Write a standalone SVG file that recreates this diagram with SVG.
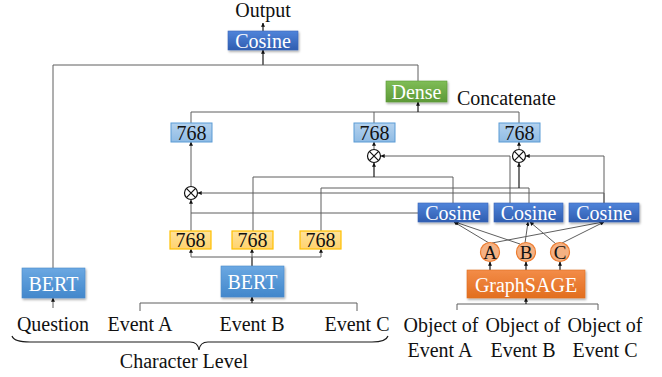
<svg xmlns="http://www.w3.org/2000/svg" width="662" height="377" viewBox="0 0 662 377">
  <defs>
    <linearGradient id="gCos" x1="0" y1="0" x2="0" y2="1">
      <stop offset="0" stop-color="#5084da"/>
      <stop offset="1" stop-color="#2f5db0"/>
    </linearGradient>
    <linearGradient id="gBert" x1="0" y1="0" x2="0" y2="1">
      <stop offset="0" stop-color="#6ba8e2"/>
      <stop offset="1" stop-color="#4287cb"/>
    </linearGradient>
    <linearGradient id="gDense" x1="0" y1="0" x2="0" y2="1">
      <stop offset="0" stop-color="#7fbd57"/>
      <stop offset="1" stop-color="#5d9937"/>
    </linearGradient>
    <linearGradient id="gSage" x1="0" y1="0" x2="0" y2="1">
      <stop offset="0" stop-color="#f38c48"/>
      <stop offset="1" stop-color="#e26e1f"/>
    </linearGradient>
    <linearGradient id="gVec" x1="0" y1="0" x2="0" y2="1">
      <stop offset="0" stop-color="#b4d2ee"/>
      <stop offset="1" stop-color="#8fbbe4"/>
    </linearGradient>
    <linearGradient id="gTok" x1="0" y1="0" x2="0" y2="1">
      <stop offset="0" stop-color="#ffe29a"/>
      <stop offset="1" stop-color="#ffd36e"/>
    </linearGradient>
    <filter id="shadow" x="-10%" y="-20%" width="120%" height="150%">
      <feDropShadow dx="1" dy="1.5" stdDeviation="0.8" flood-color="#000" flood-opacity="0.35"/>
    </filter>
    <marker id="arr" viewBox="0 0 6 6" refX="5.5" refY="3" markerWidth="4" markerHeight="4" orient="auto" markerUnits="userSpaceOnUse">
      <path d="M0,0 L6,3 L0,6 z" fill="#111"/>
    </marker>
  </defs>
  <style>
    text { font-family: "Liberation Serif", "Times New Roman", serif; font-size: 20px; }
    .lbl { fill: #111; }
    .wt { fill: #fff; text-anchor: middle; }
    .bk { fill: #111; text-anchor: middle; }
    .ln { fill: none; stroke: #5f5f5f; stroke-width: 1; }
    .dk { fill: none; stroke: #1a1a1a; stroke-width: 1.2; }
    .ar { marker-end: url(#arr); }
    .cos { fill: url(#gCos); stroke: #3a66b8; stroke-width: 0.6; filter: url(#shadow); }
    .bert { fill: url(#gBert); stroke: #4a8bcb; stroke-width: 0.6; filter: url(#shadow); }
    .vec { fill: url(#gVec); stroke: #5b9bd5; stroke-width: 1; }
    .tok { fill: url(#gTok); stroke: #ffc000; stroke-width: 1.2; }
    .obj { fill: #f4b183; stroke: #ed7d31; stroke-width: 1.2; }
    .mul { fill: #fff; stroke: #111; stroke-width: 1.2; }
  </style>

  <!-- connectors -->
  <g id="connectors">
    <!-- output and top cosine -->
    <line class="dk ar" x1="263" y1="31" x2="263" y2="23"/>
    <line class="dk ar" x1="263" y1="65" x2="263" y2="50"/>
    <polyline class="ln" points="53,268 53,65 418,65 418,81"/>
    <!-- concatenation into dense -->
    <polyline class="ln" points="191,123 191,112 519,112 519,123"/>
    <line class="ln" x1="374" y1="112" x2="374" y2="123"/>
    <line class="dk ar" x1="418" y1="112" x2="418" y2="102"/>
    <!-- products into 768 vectors -->
    <line class="ln ar" x1="191" y1="186" x2="191" y2="142"/>
    <line class="ln ar" x1="374" y1="149" x2="374" y2="142"/>
    <line class="ln ar" x1="519" y1="149" x2="519" y2="142"/>
    <!-- inputs to left product -->
    <line class="ln ar" x1="191" y1="231" x2="191" y2="200"/>
    <line class="ln" x1="191" y1="213" x2="418" y2="213"/>
    <polyline class="ln ar" points="604,203 604,193 198,193"/>
    <!-- inputs to middle product -->
    <polyline class="ln ar" points="510,203 510,156 381,156"/>
    <polyline class="ln" points="253,231 253,177 453,177 453,203"/>
    <line class="dk ar" x1="374" y1="177" x2="374" y2="163"/>
    <!-- inputs to right product -->
    <polyline class="ln ar" points="604,203 604,156 526,156"/>
    <polyline class="ln" points="321,231 321,188 529,188 529,203"/>
    <line class="dk ar" x1="519" y1="188" x2="519" y2="163"/>
    <!-- token vectors from BERT -->
    <line class="dk" x1="252" y1="266" x2="252" y2="257"/>
    <line class="ln" x1="191" y1="257" x2="321" y2="257"/>
    <line class="ln ar" x1="191" y1="257" x2="191" y2="249"/>
    <line class="ln ar" x1="252" y1="257" x2="252" y2="249"/>
    <line class="ln ar" x1="321" y1="257" x2="321" y2="249"/>
    <!-- event inputs to BERT -->
    <polyline class="ln" points="140,311 140,303 357,303 357,311"/>
    <line class="dk ar" x1="252" y1="303" x2="252" y2="297"/>
    <line class="ln ar" x1="53" y1="308" x2="53" y2="298"/>
    <!-- object inputs to GraphSAGE -->
    <polyline class="ln" points="457,310 457,304 598,304 598,310"/>
    <line class="dk ar" x1="526" y1="304" x2="526" y2="298"/>
    <line class="dk ar" x1="490" y1="270" x2="490" y2="262"/>
    <line class="dk ar" x1="526" y1="270" x2="526" y2="262"/>
    <line class="dk ar" x1="560" y1="270" x2="560" y2="262"/>
    <!-- object embeddings into pairwise cosines -->
    <line class="ln ar" x1="489" y1="243" x2="454" y2="222"/>
    <line class="ln ar" x1="520" y1="244" x2="455" y2="222"/>
    <line class="ln ar" x1="525" y1="243" x2="528" y2="222"/>
    <line class="ln ar" x1="556" y1="244" x2="530" y2="222"/>
    <line class="ln ar" x1="492" y1="243" x2="603" y2="222"/>
    <line class="ln ar" x1="562" y1="243" x2="604" y2="222"/>
    <!-- brace -->
    <path class="dk" d="M12,336 Q14,342 30,342 L190,342 Q198,342 199,350 Q200,342 208,342 L372,342 Q386,342 388,336"/>
  </g>

  <g id="output">
    <text class="bk" x="263" y="17">Output</text>
  </g>
  <g id="cosine-top">
    <rect class="cos" x="228" y="31" width="70" height="19"/>
    <text class="wt" x="263" y="48">Cosine</text>
  </g>
  <g id="dense">
    <rect x="386" y="81" width="61" height="21" fill="url(#gDense)" stroke="#5d9937" stroke-width="0.6" filter="url(#shadow)"/>
    <text class="wt" x="416.5" y="99">Dense</text>
  </g>
  <g id="concatenate">
    <text class="lbl" x="457" y="105">Concatenate</text>
  </g>

  <g id="vec-a">
    <rect class="vec" x="171" y="123" width="41" height="19"/>
    <text class="bk" x="191.5" y="140">768</text>
  </g>
  <g id="vec-b">
    <rect class="vec" x="354" y="123" width="41" height="19"/>
    <text class="bk" x="374.5" y="140">768</text>
  </g>
  <g id="vec-c">
    <rect class="vec" x="499" y="123" width="41" height="19"/>
    <text class="bk" x="519.5" y="140">768</text>
  </g>

  <g id="mul-b">
    <circle class="mul" cx="374" cy="156" r="6.5"/>
    <path class="mul" d="M369.4,151.4 L378.6,160.6 M378.6,151.4 L369.4,160.6"/>
  </g>
  <g id="mul-c">
    <circle class="mul" cx="519" cy="156" r="6.5"/>
    <path class="mul" d="M514.4,151.4 L523.6,160.6 M523.6,151.4 L514.4,160.6"/>
  </g>
  <g id="mul-a">
    <circle class="mul" cx="191" cy="193" r="6.5"/>
    <path class="mul" d="M186.4,188.4 L195.6,197.6 M195.6,188.4 L186.4,197.6"/>
  </g>

  <g id="cosine-ab">
    <rect class="cos" x="418" y="203" width="70" height="19"/>
    <text class="wt" x="453" y="220">Cosine</text>
  </g>
  <g id="cosine-bc">
    <rect class="cos" x="494" y="203" width="69" height="19"/>
    <text class="wt" x="528.5" y="220">Cosine</text>
  </g>
  <g id="cosine-ac">
    <rect class="cos" x="569" y="203" width="70" height="19"/>
    <text class="wt" x="604" y="220">Cosine</text>
  </g>

  <g id="tok-a">
    <rect class="tok" x="170" y="231" width="41" height="18"/>
    <text class="bk" x="190.5" y="247">768</text>
  </g>
  <g id="tok-b">
    <rect class="tok" x="232" y="231" width="41" height="18"/>
    <text class="bk" x="252.5" y="247">768</text>
  </g>
  <g id="tok-c">
    <rect class="tok" x="300" y="231" width="41" height="18"/>
    <text class="bk" x="320.5" y="247">768</text>
  </g>

  <g id="obj-a">
    <circle class="obj" cx="490" cy="252" r="9.5"/>
    <text class="bk" x="490" y="259" style="font-size:19px">A</text>
  </g>
  <g id="obj-b">
    <circle class="obj" cx="526" cy="252" r="9.5"/>
    <text class="bk" x="526" y="259" style="font-size:19px">B</text>
  </g>
  <g id="obj-c">
    <circle class="obj" cx="560" cy="252" r="9.5"/>
    <text class="bk" x="560" y="259" style="font-size:19px">C</text>
  </g>

  <g id="bert-question">
    <rect class="bert" x="22" y="268" width="63" height="30"/>
    <text class="wt" x="53.5" y="291">BERT</text>
  </g>
  <g id="bert-events">
    <rect class="bert" x="221" y="266" width="63" height="31"/>
    <text class="wt" x="252.5" y="289">BERT</text>
  </g>
  <g id="graphsage">
    <rect x="467" y="270" width="118" height="28" fill="url(#gSage)" stroke="#e26e1f" stroke-width="0.6" filter="url(#shadow)"/>
    <text class="wt" x="526" y="292">GraphSAGE</text>
  </g>

  <g id="inputs">
    <text class="bk" x="53" y="331">Question</text>
    <text class="bk" x="140" y="331">Event A</text>
    <text class="bk" x="252" y="331">Event B</text>
    <text class="bk" x="357" y="331">Event C</text>
    <text class="bk" x="441" y="332">Object of</text>
    <text class="bk" x="523" y="332">Object of</text>
    <text class="bk" x="605" y="332">Object of</text>
    <text class="bk" x="440" y="357">Event A</text>
    <text class="bk" x="523" y="357">Event B</text>
    <text class="bk" x="605" y="357">Event C</text>
    <text class="bk" x="184" y="368">Character Level</text>
  </g>
</svg>
